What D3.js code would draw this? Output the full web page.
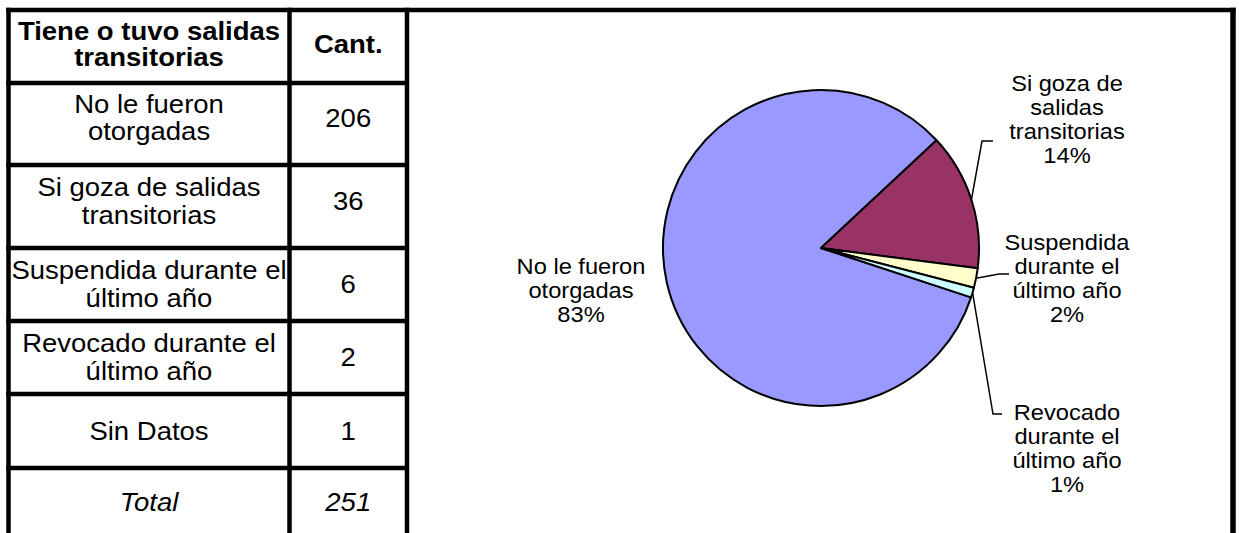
<!DOCTYPE html>
<html>
<head>
<meta charset="utf-8">
<script src="https://cdn.jsdelivr.net/npm/d3@7"></script>
<style>
  html, body { margin: 0; padding: 0; background: #ffffff; }
  svg { display: block; }
  text { font-family: "Liberation Sans", Arial, sans-serif; fill: #000; }
</style>
</head>
<body>
<svg id="chart" width="1239" height="533"></svg>
<script>
// Table contents
const headerCategory = ["Tiene o tuvo salidas", "transitorias"];
const headerCount = "Cant.";
const categories = [
  ["No le fueron", "otorgadas"],
  ["Si goza de salidas", "transitorias"],
  ["Suspendida durante el", "último año"],
  ["Revocado durante el", "último año"],
  ["Sin Datos"]
];
const counts = [206, 36, 6, 2, 1];
const totalLabel = "Total";
const totalCount = 251;

// Pie contents: share (%) per slice and its label lines
const pieShares = [83, 14, 2, 1];
const pieNames = [
  ["No le fueron", "otorgadas"],
  ["Si goza de", "salidas", "transitorias"],
  ["Suspendida", "durante el", "último año"],
  ["Revocado", "durante el", "último año"]
];
const pieColors = ["#9999ff", "#993366", "#ffffcc", "#ccffff"];

const svg = d3.select("#chart");

// Multi-line centred text, slightly widened like the original rendering
function block(g, cx, cy, lines, opts) {
  const o = Object.assign({size: 25, lh: 27.5, sx: 1.1, weight: "normal", style: "normal"}, opts || {});
  const grp = g.append("g").attr("transform", `translate(${cx},${cy}) scale(${o.sx},1)`);
  const n = lines.length;
  lines.forEach((t, i) => {
    grp.append("text")
      .attr("x", 0)
      .attr("y", (i - (n - 1) / 2) * o.lh)
      .attr("text-anchor", "middle")
      .attr("dominant-baseline", "central")
      .style("font-size", o.size + "px")
      .style("font-weight", o.weight)
      .style("font-style", o.style)
      .text(t);
  });
}

// ---------- Table ----------
const colEdges = [8.5, 289.5, 407];
const rowEdges = [10, 83, 165, 248, 321, 394, 468, 560];
const rowShift = [-2, -6, -5, 0, 0, 0, -12];
const table = svg.append("g");

const rows = [
  {a: headerCategory, b: [headerCount], bold: true},
  ...categories.map((c, i) => ({a: c, b: [String(counts[i])]})),
  {a: [totalLabel], b: [String(totalCount)], italic: true}
];

rows.forEach((r, i) => {
  const cy = (rowEdges[i] + rowEdges[i + 1]) / 2 + rowShift[i];
  const opts = {weight: r.bold ? "bold" : "normal", style: r.italic ? "italic" : "normal"};
  if (r.bold) { opts.lh = 26; }
  block(table, (colEdges[0] + colEdges[1]) / 2, cy, r.a, opts);
  block(table, (colEdges[1] + colEdges[2]) / 2, cy, r.b, opts);
});

const lw = 4.5;
// horizontal rules
rowEdges.slice(0, 7).forEach(y => {
  table.append("line").attr("x1", colEdges[0] - lw / 2).attr("x2", colEdges[2])
    .attr("y1", y).attr("y2", y).attr("stroke", "#000").attr("stroke-width", lw);
});
// vertical rules
colEdges.forEach(x => {
  table.append("line").attr("x1", x).attr("x2", x).attr("y1", rowEdges[0] - lw / 2).attr("y2", 533)
    .attr("stroke", "#000").attr("stroke-width", lw);
});

// ---------- Chart frame ----------
const frame = {x0: 407, x1: 1233, y0: 10};
svg.append("line").attr("x1", frame.x0).attr("x2", frame.x1 + 2.5).attr("y1", frame.y0).attr("y2", frame.y0)
  .attr("stroke", "#000").attr("stroke-width", lw);
svg.append("line").attr("x1", frame.x1).attr("x2", frame.x1).attr("y1", frame.y0 - lw / 2).attr("y2", 533)
  .attr("stroke", "#000").attr("stroke-width", 5.5);

// ---------- Pie ----------
const cx = 821, cy = 248, R = 158;
const startDeg = 108.2;
const pie = d3.pie().sort(null).value(d => d)
  .startAngle(startDeg * Math.PI / 180)
  .endAngle((startDeg + 360) * Math.PI / 180);
const arcs = pie(pieShares);
const arc = d3.arc().innerRadius(0).outerRadius(R);

const pg = svg.append("g").attr("transform", `translate(${cx},${cy})`);
pg.selectAll("path").data(arcs).join("path")
  .attr("d", arc)
  .attr("fill", (d, i) => pieColors[i])
  .attr("stroke", "#000")
  .attr("stroke-width", 2)
  .attr("stroke-linejoin", "round");

// point on the rim at the middle of a slice
function rim(d) {
  const a = (d.startAngle + d.endAngle) / 2;
  return [cx + R * Math.sin(a), cy - R * Math.cos(a)];
}

// Label placement: centre of text block, and leader elbow (if any)
const labelPos = [
  {x: 581, y: 291, leader: null},
  {x: 1067, y: 120, leader: [[982, 141], [993, 141]]},
  {x: 1067, y: 279, leader: [[999, 274], [1009, 274]]},
  {x: 1067, y: 449, leader: [[993, 414], [1002, 414]]}
];

arcs.forEach((d, i) => {
  const lines = pieNames[i].concat([pieShares[i] + "%"]);
  const p = labelPos[i];
  block(svg, p.x, p.y, lines, {size: 21.5, lh: 24, sx: 1.1});
  if (p.leader) {
    const pts = [rim(d)].concat(p.leader);
    svg.append("path")
      .attr("d", d3.line()(pts))
      .attr("fill", "none")
      .attr("stroke", "#000")
      .attr("stroke-width", 1.5);
  }
});
</script>
</body>
</html>
